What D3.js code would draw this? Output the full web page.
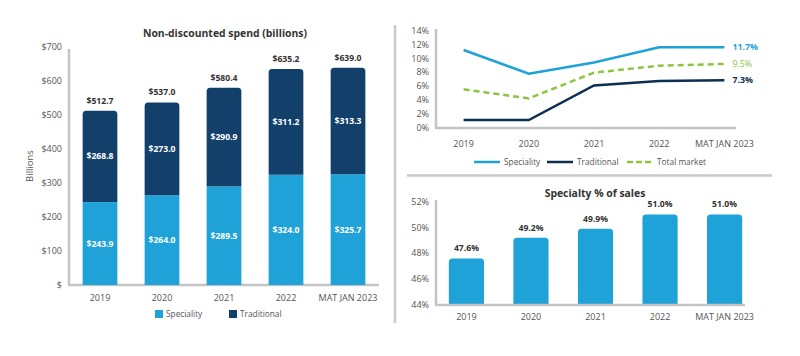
<!DOCTYPE html>
<html><head><meta charset="utf-8">
<script src="https://cdn.jsdelivr.net/npm/d3@7"></script>
<style>
body{margin:0;background:#fff;}
svg{font-family:"Open Sans",sans-serif;}
</style></head>
<body><svg id="c" width="800" height="356"></svg>
<script>
const categories = ["2019","2020","2021","2022","MAT JAN 2023"];
const specialitySpend = [243.9,264.0,289.5,324.0,325.7];
const traditionalSpend = [268.8,273.0,290.9,311.2,313.3];
const totalSpend = [512.7,537.0,580.4,635.2,639.0];
const spendTicks = [0,100,200,300,400,500,600,700];

const growthSpeciality = [11.2,7.8,9.4,11.6,11.6];
const growthTraditional = [1.15,1.15,6.1,6.75,6.85];
const growthTotal = [5.55,4.25,7.95,8.95,9.2];
const growthEndLabels = ["11.7%","7.3%","9.5%"];
const growthTicks = [0,2,4,6,8,10,12,14];

const specialtyShare = [47.6,49.2,49.9,51.0,51.0];
const shareTicks = [44,46,48,50,52];

const C_SPEC = "#1ea2d8", C_TRAD = "#12406b", C_LINE_TRAD = "#0d2f52", C_TOT = "#8cc63f";
const AX = "#c4c4c4", TXT = "#555", LBL = "#333";
const FS_TICK = 9, FS_CAT = 9, FS_VAL = 8.6, FS_LEG = 8.3, FS_TITLE = 10.4;

const svg = d3.select("#c");

function topRoundedRect(x, y, w, h, r){
  r = Math.min(r, h, w/2);
  return `M${x},${y+h}V${y+r}Q${x},${y} ${x+r},${y}H${x+w-r}Q${x+w},${y} ${x+w},${y+r}V${y+h}Z`;
}

// separators
svg.append("line").attr("x1",395).attr("x2",395).attr("y1",25).attr("y2",323).attr("stroke","#c9c9c9").attr("stroke-width",2.5);
svg.append("line").attr("x1",407).attr("x2",772).attr("y1",175.5).attr("y2",175.5).attr("stroke","#c9c9c9").attr("stroke-width",2.5);

// ---------- Left: stacked bars ----------
{
  const x = d3.scaleBand().domain(categories).range([69,379]).paddingInner(0.44).paddingOuter(0.22);
  const y = d3.scaleLinear().domain([0,700]).range([285,47]);
  const g = svg.append("g");
  g.append("text").attr("x",225).attr("y",37).attr("text-anchor","middle").attr("font-size",FS_TITLE).attr("font-weight",700).attr("fill","#333").text("Non-discounted spend (billions)");
  g.append("path").attr("d",`M69,49V${y(0)}H379`).attr("fill","none").attr("stroke",AX).attr("stroke-width",2.5).attr("stroke-linejoin","round");
  g.selectAll(".yt").data(spendTicks).enter().append("text").attr("x",62).attr("y",d=>y(d)+3.2).attr("text-anchor","end").attr("font-size",FS_TICK).attr("fill",TXT).text(d=>d===0?"$":"$"+d);
  g.append("text").attr("transform",`translate(33,${y(350)}) rotate(-90)`).attr("text-anchor","middle").attr("font-size",FS_TICK+0.5).attr("fill",TXT).text("Billions");
  categories.forEach((c,i)=>{
    const bx = x(c), bw = x.bandwidth();
    g.append("rect").attr("x",bx).attr("y",y(specialitySpend[i])).attr("width",bw).attr("height",y(0)-y(specialitySpend[i])).attr("fill",C_SPEC);
    const t0 = y(totalSpend[i]), t1 = y(specialitySpend[i]);
    g.append("path").attr("d",topRoundedRect(bx,t0,bw,t1-t0,3.5)).attr("fill",C_TRAD);
    g.append("text").attr("x",bx+bw/2).attr("y",(y(0)+t1)/2+3).attr("text-anchor","middle").attr("font-size",FS_VAL).attr("font-weight",700).attr("fill","#fff").text("$"+specialitySpend[i].toFixed(1));
    g.append("text").attr("x",bx+bw/2).attr("y",(t0+t1)/2+3).attr("text-anchor","middle").attr("font-size",FS_VAL).attr("font-weight",700).attr("fill","#fff").text("$"+traditionalSpend[i].toFixed(1));
    g.append("text").attr("x",bx+bw/2).attr("y",t0-7).attr("text-anchor","middle").attr("font-size",FS_VAL).attr("font-weight",700).attr("fill",LBL).text("$"+totalSpend[i].toFixed(1));
    g.append("text").attr("x",bx+bw/2).attr("y",301).attr("text-anchor","middle").attr("font-size",FS_CAT).attr("fill",TXT).text(c);
  });
  const leg = [["Speciality",C_SPEC,155],["Traditional",C_TRAD,229]];
  leg.forEach(([n,col,lx])=>{
    g.append("rect").attr("x",lx).attr("y",310).attr("width",8).attr("height",8).attr("fill",col);
    g.append("text").attr("x",lx+11).attr("y",317).attr("font-size",FS_LEG).attr("fill",TXT).text(n);
  });
}

// ---------- Top right: lines ----------
{
  const xb = d3.scaleBand().domain(categories).range([431,757]);
  const x = c => xb(c)+xb.bandwidth()/2;
  const y = d3.scaleLinear().domain([0,14]).range([128,30.5]);
  const g = svg.append("g");
  g.append("path").attr("d",`M436,29V${y(0)}H736`).attr("fill","none").attr("stroke",AX).attr("stroke-width",2.5).attr("stroke-linejoin","round");
  g.selectAll(".yt").data(growthTicks).enter().append("text").attr("x",429).attr("y",d=>y(d)+3.2).attr("text-anchor","end").attr("font-size",FS_TICK).attr("fill",TXT).text(d=>d+"%");
  categories.forEach(c=>{
    g.append("text").attr("x",x(c)).attr("y",147).attr("text-anchor","middle").attr("font-size",FS_CAT).attr("fill",TXT).text(c);
  });
  const line = d3.line().x((d,i)=>x(categories[i])).y(d=>y(d));
  g.append("path").attr("d",line(growthTotal)).attr("fill","none").attr("stroke",C_TOT).attr("stroke-width",2.5).attr("stroke-dasharray","6,4");
  g.append("path").attr("d",line(growthTraditional)).attr("fill","none").attr("stroke",C_LINE_TRAD).attr("stroke-width",2.5);
  g.append("path").attr("d",line(growthSpeciality)).attr("fill","none").attr("stroke",C_SPEC).attr("stroke-width",2.5);
  const last = categories.length-1, lx = x(categories[last])+8;
  g.append("text").attr("x",lx).attr("y",y(growthSpeciality[last])+3).attr("font-size",FS_VAL+0.2).attr("font-weight",700).attr("fill",C_SPEC).text(growthEndLabels[0]);
  g.append("text").attr("x",lx).attr("y",y(growthTraditional[last])+3).attr("font-size",FS_VAL+0.2).attr("font-weight",700).attr("fill",C_LINE_TRAD).text(growthEndLabels[1]);
  g.append("text").attr("x",lx).attr("y",y(growthTotal[last])+3).attr("font-size",FS_VAL+0.2).attr("fill",C_TOT).text(growthEndLabels[2]);
  const leg = [["Speciality",C_SPEC,474,null],["Traditional",C_LINE_TRAD,547,null],["Total market",C_TOT,627,"6,3"]];
  leg.forEach(([n,col,lx2,da])=>{
    const l = g.append("line").attr("x1",lx2).attr("x2",lx2+26).attr("y1",162).attr("y2",162).attr("stroke",col).attr("stroke-width",2.5);
    if(da) l.attr("stroke-dasharray",da);
    g.append("text").attr("x",lx2+30).attr("y",165).attr("font-size",FS_LEG).attr("fill",TXT).text(n);
  });
}

// ---------- Bottom right: share bars ----------
{
  const x = d3.scaleBand().domain(categories).range([434,757]).paddingInner(0.455).paddingOuter(0.23);
  const y = d3.scaleLinear().domain([44,52]).range([305,201.5]);
  const g = svg.append("g");
  g.append("text").attr("x",595).attr("y",197).attr("text-anchor","middle").attr("font-size",FS_TITLE).attr("font-weight",700).attr("fill","#333").text("Specialty % of sales");
  g.selectAll(".yt").data(shareTicks).enter().append("text").attr("x",429).attr("y",d=>y(d)+3.2).attr("text-anchor","end").attr("font-size",FS_TICK).attr("fill",TXT).text(d=>d+"%");
  categories.forEach((c,i)=>{
    const bx = x(c), bw = x.bandwidth(), t = y(specialtyShare[i]);
    g.append("path").attr("d",topRoundedRect(bx,t,bw,y(44)-t,3.5)).attr("fill",C_SPEC);
    g.append("text").attr("x",bx+bw/2).attr("y",t-7).attr("text-anchor","middle").attr("font-size",FS_VAL).attr("font-weight",700).attr("fill",LBL).text(specialtyShare[i].toFixed(1)+"%");
    g.append("text").attr("x",bx+bw/2).attr("y",320).attr("text-anchor","middle").attr("font-size",FS_CAT).attr("fill",TXT).text(c);
  });
  g.append("path").attr("d",`M436,200V${y(44)}H745`).attr("fill","none").attr("stroke",AX).attr("stroke-width",2.5).attr("stroke-linejoin","round");
}
</script></body></html>
